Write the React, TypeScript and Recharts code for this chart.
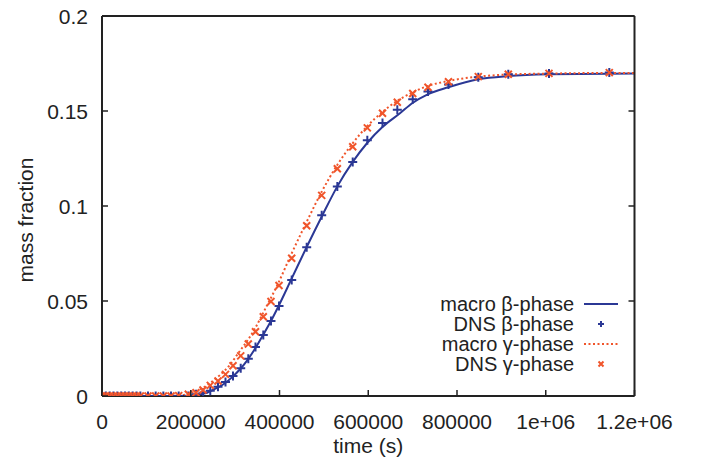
import { ComposedChart, Line, Scatter, XAxis, YAxis, Legend, Label } from 'recharts';

const BLUE = '#2b3895';
const RED = '#f0552b';
const INK = '#222222';
const FONT = '"Liberation Sans", Arial, sans-serif';

const xTicks = [0, 200000, 400000, 600000, 800000, 1000000, 1200000];
const yTicks = [0, 0.05, 0.1, 0.15, 0.2];

// macro model curves
const macroBetaT = [0, 150000, 190000, 213000, 236000, 258000, 277000, 294500, 311000, 329000, 345500, 363500, 381000, 398000, 426000, 461000, 497000, 530000, 565000, 598000, 632500, 671500, 699000, 734000, 780500, 848000, 915500, 1007000, 1142500, 1200000];
const macroBetaV = [0, 0, 0.0001, 0.0005, 0.0017, 0.0041, 0.0067, 0.0102, 0.0141, 0.0193, 0.0251, 0.0323, 0.0396, 0.0474, 0.0611, 0.0783, 0.0953, 0.1102, 0.1232, 0.1333, 0.1417, 0.1488, 0.1541, 0.1588, 0.1625, 0.1667, 0.1684, 0.1693, 0.1696, 0.1697];

const macroGammaT = [0, 130000, 176000, 198000, 221000, 243000, 266000, 288000, 307000, 326000, 345000, 363500, 397000, 427500, 461300, 495100, 530200, 564900, 597900, 632600, 665500, 700200, 734600, 780400, 848000, 915600, 1007300, 1142500, 1200000];
const macroGammaV = [0, 0, 0.0002, 0.0014, 0.0035, 0.0067, 0.0111, 0.0163, 0.0225, 0.0286, 0.0356, 0.0439, 0.0593, 0.0751, 0.0917, 0.1075, 0.1216, 0.133, 0.1421, 0.1496, 0.1554, 0.1598, 0.1632, 0.1658, 0.1681, 0.1692, 0.1697, 0.17, 0.17];

// DNS samples
const dnsT = [0, 8640, 17280, 25920, 34560, 43200, 51840, 60480, 69120, 77760, 86400, 103680, 120960, 138240, 155520, 172800, 194500, 211800, 227600, 244000, 261400, 278300, 295200, 312600, 329700, 345900, 363500, 380800, 398900, 427500, 461300, 495100, 530300, 565000, 597900, 632100, 665500, 700200, 734600, 780800, 848000, 915600, 1007300, 1143200];
const dnsBetaV = [0, 0, 0, 0, 0, 0, 0, 0, 0, 0, 0, 0, 0, 0, 0, 0, 0, 0.0009, 0.0017, 0.0028, 0.0049, 0.0074, 0.0105, 0.0146, 0.0196, 0.0258, 0.0321, 0.0395, 0.0474, 0.0611, 0.0783, 0.0951, 0.1102, 0.1232, 0.1346, 0.1437, 0.1507, 0.1562, 0.1602, 0.1639, 0.1677, 0.1693, 0.1698, 0.1702];
const dnsGammaV = [0, 0, 0, 0, 0, 0, 0, 0, 0, 0, 0, 0, 0, 0, 0, 0.0002, 0.0009, 0.0017, 0.0032, 0.0056, 0.0079, 0.0114, 0.0159, 0.0211, 0.0274, 0.0338, 0.0417, 0.0497, 0.0582, 0.0725, 0.0896, 0.1056, 0.1196, 0.1312, 0.1411, 0.1488, 0.1546, 0.1592, 0.1625, 0.1654, 0.1681, 0.1693, 0.1698, 0.1702];

const zip = (ts: number[], vs: number[]) => ts.map((t, i) => ({ t, v: vs[i] }));
const macroBeta = zip(macroBetaT, macroBetaV);
const macroGamma = zip(macroGammaT, macroGammaV);
const dnsBeta = zip(dnsT, dnsBetaV);
const dnsGamma = zip(dnsT, dnsGammaV);

const fmtX = (v: number) => (v >= 1000000 ? `${v / 1000000}e+06` : String(v));

const BottomTick = ({ x, y, payload }: any) => (
  <g>
    <line x1={x} x2={x} y1={y} y2={y - 6} stroke={INK} strokeWidth={1.5} />
    <text x={x} y={y + 33} textAnchor="middle" fontSize={21} fontFamily={FONT} fill={INK}>
      {fmtX(payload.value)}
    </text>
  </g>
);

const LeftTick = ({ x, y, payload }: any) => (
  <g>
    <line x1={x} x2={x + 6} y1={y} y2={y} stroke={INK} strokeWidth={1.5} />
    <text x={x - 14} y={y + 7.5} textAnchor="end" fontSize={21} fontFamily={FONT} fill={INK}>
      {String(payload.value)}
    </text>
  </g>
);

const TopTick = ({ x, y }: any) => <line x1={x} x2={x} y1={y} y2={y + 6} stroke={INK} strokeWidth={1.5} />;
const RightTick = ({ x, y }: any) => <line x1={x} x2={x - 6} y1={y} y2={y} stroke={INK} strokeWidth={1.5} />;

const PlusMark = ({ cx, cy }: any) => (
  <path d={`M${cx - 4.5},${cy}h9M${cx},${cy - 4.5}v9`} stroke={BLUE} strokeWidth={2} fill="none" />
);
const CrossMark = ({ cx, cy }: any) => (
  <path d={`M${cx - 3.5},${cy - 3.5}l7,7M${cx - 3.5},${cy + 3.5}l7,-7`} stroke={RED} strokeWidth={2} fill="none" />
);

const legendRows = [
  { name: 'macro β-phase', kind: 'line' },
  { name: 'DNS β-phase', kind: 'plus' },
  { name: 'macro γ-phase', kind: 'dots' },
  { name: 'DNS γ-phase', kind: 'cross' },
];

const LegendBox = () => (
  <div style={{ fontFamily: FONT, fontSize: 20, color: INK }}>
    {legendRows.map((r) => (
      <div key={r.name} style={{ display: 'flex', height: 20, alignItems: 'center' }}>
        <span style={{ flex: 1, textAlign: 'right', lineHeight: '20px', whiteSpace: 'nowrap' }}>{r.name}</span>
        <svg width={56} height={20}>
          {r.kind === 'line' && <line x1={10} x2={44} y1={10} y2={10} stroke={BLUE} strokeWidth={2} />}
          {r.kind === 'dots' && <line x1={10} x2={44} y1={10} y2={10} stroke={RED} strokeWidth={2} strokeDasharray="2 2.5" />}
          {r.kind === 'plus' && <path d="M24,10h6M27,7v6" stroke={BLUE} strokeWidth={2} />}
          {r.kind === 'cross' && <path d="M24.5,7.5l5,5M24.5,12.5l5,-5" stroke={RED} strokeWidth={2} />}
        </svg>
      </div>
    ))}
  </div>
);

export default function App() {
  return (
    <div style={{ position: 'absolute', left: 0, top: 0, background: '#fff' }}>
      <ComposedChart width={704} height={463} margin={{ top: 6, right: 59.5, bottom: 27, left: 52 }}>
        <XAxis
          type="number"
          dataKey="t"
          domain={[0, 1200000]}
          ticks={xTicks}
          allowDataOverflow
          height={40}
          tickSize={0}
          tickMargin={0}
          tickLine={false}
          tick={<BottomTick />}
          axisLine={{ stroke: INK, strokeWidth: 2 }}
          interval={0}
        >
          <Label
            content={({ viewBox }: any) => (
              <text x={viewBox.x + viewBox.width / 2} y={viewBox.y + 57} textAnchor="middle" fontSize={21} fontFamily={FONT} fill={INK}>
                time (s)
              </text>
            )}
          />
        </XAxis>
        <XAxis
          xAxisId="top"
          orientation="top"
          type="number"
          domain={[0, 1200000]}
          ticks={xTicks}
          allowDataOverflow
          height={10}
          tickSize={0}
          tickMargin={0}
          tickLine={false}
          tick={<TopTick />}
          axisLine={{ stroke: INK, strokeWidth: 2 }}
          interval={0}
        />
        <YAxis
          type="number"
          dataKey="v"
          domain={[0, 0.2]}
          ticks={yTicks}
          allowDataOverflow
          width={50}
          tickSize={0}
          tickMargin={0}
          tickLine={false}
          tick={<LeftTick />}
          axisLine={{ stroke: INK, strokeWidth: 2 }}
          interval={0}
        >
          <Label
            content={({ viewBox }: any) => {
              const cx = viewBox.x + viewBox.width - 77;
              const cy = viewBox.y + viewBox.height / 2 + 14;
              return (
                <text x={cx} y={cy} transform={`rotate(-90 ${cx} ${cy})`} textAnchor="middle" dominantBaseline="central" fontSize={21} fontFamily={FONT} fill={INK}>
                  mass fraction
                </text>
              );
            }}
          />
        </YAxis>
        <YAxis
          yAxisId="right"
          orientation="right"
          type="number"
          domain={[0, 0.2]}
          ticks={yTicks}
          allowDataOverflow
          width={10}
          tickSize={0}
          tickMargin={0}
          tickLine={false}
          tick={<RightTick />}
          axisLine={{ stroke: INK, strokeWidth: 2 }}
          interval={0}
        />
        <Line data={macroBeta} dataKey="v" type="monotone" stroke={BLUE} strokeWidth={2} dot={false} isAnimationActive={false} />
        <Scatter data={dnsBeta} dataKey="v" shape={<PlusMark />} isAnimationActive={false} />
        <Line data={macroGamma} dataKey="v" type="monotone" stroke={RED} strokeWidth={2} strokeDasharray="2 2.5" dot={false} isAnimationActive={false} />
        <Scatter data={dnsGamma} dataKey="v" shape={<CrossMark />} isAnimationActive={false} />
        <Legend
          layout="vertical"
          align="center"
          verticalAlign="middle"
          content={<LegendBox />}
          wrapperStyle={{ left: 400, top: 294, width: 230, height: 80 }}
        />
      </ComposedChart>
    </div>
  );
}
